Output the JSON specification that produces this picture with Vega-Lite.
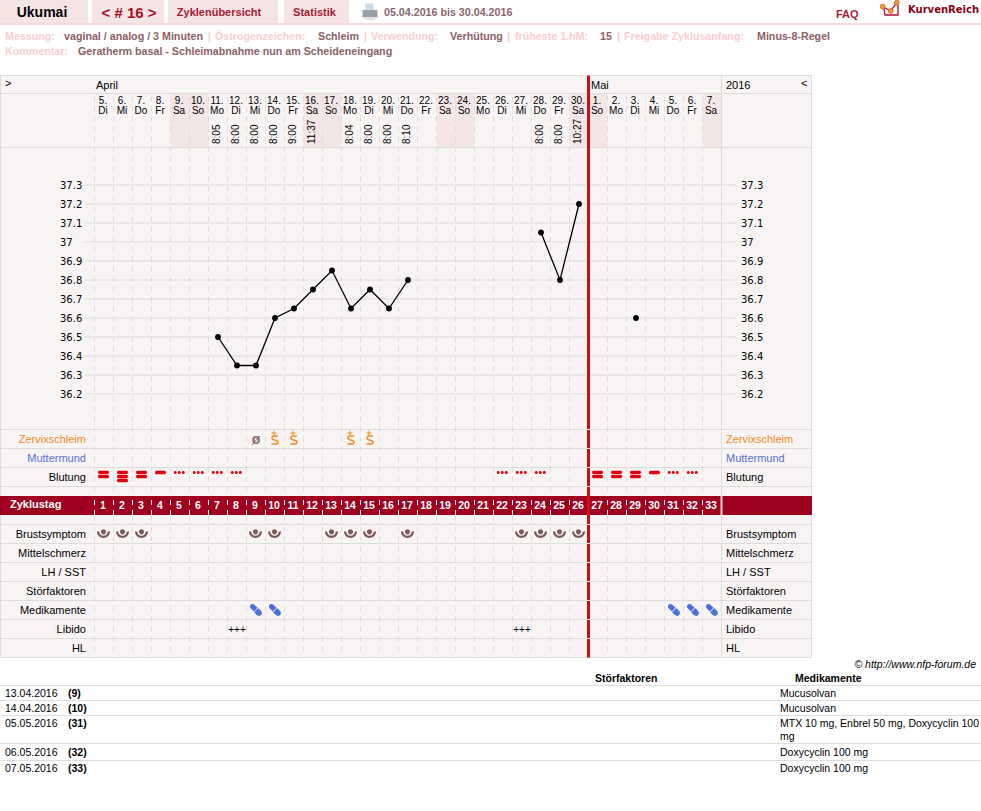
{
"$schema":"https://vega.github.io/schema/vega-lite/v6.json",
"width":981,"height":811,"padding":0,"autosize":{"type":"none"},"background":"#ffffff",
"config":{"view":{"stroke":null},"text":{"font":"Liberation Sans"},"axis":{"disable":true},"legend":{"disable":true}},
"datasets":{
"days":[
{"day":1,"lane":-17.5,"cycleLane":3.5,"date":"5.","wd":"Di","cycle":"1"},{"day":2,"lane":-17.5,"cycleLane":3.5,"date":"6.","wd":"Mi","cycle":"2"},{"day":3,"lane":-17.5,"cycleLane":3.5,"date":"7.","wd":"Do","cycle":"3"},{"day":4,"lane":-17.5,"cycleLane":3.5,"date":"8.","wd":"Fr","cycle":"4"},{"day":5,"lane":-17.5,"cycleLane":3.5,"date":"9.","wd":"Sa","cycle":"5"},{"day":6,"lane":-17.5,"cycleLane":3.5,"date":"10.","wd":"So","cycle":"6"},{"day":7,"lane":-17.5,"cycleLane":3.5,"date":"11.","wd":"Mo","cycle":"7","time":"8:05"},{"day":8,"lane":-17.5,"cycleLane":3.5,"date":"12.","wd":"Di","cycle":"8","time":"8:00"},{"day":9,"lane":-17.5,"cycleLane":3.5,"date":"13.","wd":"Mi","cycle":"9","time":"8:00"},{"day":10,"lane":-17.5,"cycleLane":3.5,"date":"14.","wd":"Do","cycle":"10","time":"8:00"},{"day":11,"lane":-17.5,"cycleLane":3.5,"date":"15.","wd":"Fr","cycle":"11","time":"9:00"},{"day":12,"lane":-17.5,"cycleLane":3.5,"date":"16.","wd":"Sa","cycle":"12","time":"11:37"},{"day":13,"lane":-17.5,"cycleLane":3.5,"date":"17.","wd":"So","cycle":"13"},{"day":14,"lane":-17.5,"cycleLane":3.5,"date":"18.","wd":"Mo","cycle":"14","time":"8:04"},{"day":15,"lane":-17.5,"cycleLane":3.5,"date":"19.","wd":"Di","cycle":"15","time":"8:00"},{"day":16,"lane":-17.5,"cycleLane":3.5,"date":"20.","wd":"Mi","cycle":"16","time":"8:00"},{"day":17,"lane":-17.5,"cycleLane":3.5,"date":"21.","wd":"Do","cycle":"17","time":"8:10"},{"day":18,"lane":-17.5,"cycleLane":3.5,"date":"22.","wd":"Fr","cycle":"18"},{"day":19,"lane":-17.5,"cycleLane":3.5,"date":"23.","wd":"Sa","cycle":"19"},{"day":20,"lane":-17.5,"cycleLane":3.5,"date":"24.","wd":"So","cycle":"20"},{"day":21,"lane":-17.5,"cycleLane":3.5,"date":"25.","wd":"Mo","cycle":"21"},{"day":22,"lane":-17.5,"cycleLane":3.5,"date":"26.","wd":"Di","cycle":"22"},{"day":23,"lane":-17.5,"cycleLane":3.5,"date":"27.","wd":"Mi","cycle":"23"},{"day":24,"lane":-17.5,"cycleLane":3.5,"date":"28.","wd":"Do","cycle":"24","time":"8:00"},{"day":25,"lane":-17.5,"cycleLane":3.5,"date":"29.","wd":"Fr","cycle":"25","time":"8:00"},{"day":26,"lane":-17.5,"cycleLane":3.5,"date":"30.","wd":"Sa","cycle":"26","time":"10:27"},{"day":27,"lane":-17.5,"cycleLane":3.5,"date":"1.","wd":"So","cycle":"27"},{"day":28,"lane":-17.5,"cycleLane":3.5,"date":"2.","wd":"Mo","cycle":"28"},{"day":29,"lane":-17.5,"cycleLane":3.5,"date":"3.","wd":"Di","cycle":"29"},{"day":30,"lane":-17.5,"cycleLane":3.5,"date":"4.","wd":"Mi","cycle":"30"},{"day":31,"lane":-17.5,"cycleLane":3.5,"date":"5.","wd":"Do","cycle":"31"},{"day":32,"lane":-17.5,"cycleLane":3.5,"date":"6.","wd":"Fr","cycle":"32"},{"day":33,"lane":-17.5,"cycleLane":3.5,"date":"7.","wd":"Sa","cycle":"33"}],
"bounds":[{"day":0.5,"a":-18.18421,"b":11.5,"c":3.21053,"d":4},{"day":1.5,"a":-18.18421,"b":11.5,"c":3.21053,"d":4},{"day":2.5,"a":-18.18421,"b":11.5,"c":3.21053,"d":4},{"day":3.5,"a":-18.18421,"b":11.5,"c":3.21053,"d":4},{"day":4.5,"a":-18.18421,"b":11.5,"c":3.21053,"d":4},{"day":5.5,"a":-18.18421,"b":11.5,"c":3.21053,"d":4},{"day":6.5,"a":-18.18421,"b":11.5,"c":3.21053,"d":4},{"day":7.5,"a":-18.18421,"b":11.5,"c":3.21053,"d":4},{"day":8.5,"a":-18.18421,"b":11.5,"c":3.21053,"d":4},{"day":9.5,"a":-18.18421,"b":11.5,"c":3.21053,"d":4},{"day":10.5,"a":-18.18421,"b":11.5,"c":3.21053,"d":4},{"day":11.5,"a":-18.18421,"b":11.5,"c":3.21053,"d":4},{"day":12.5,"a":-18.18421,"b":11.5,"c":3.21053,"d":4},{"day":13.5,"a":-18.18421,"b":11.5,"c":3.21053,"d":4},{"day":14.5,"a":-18.18421,"b":11.5,"c":3.21053,"d":4},{"day":15.5,"a":-18.18421,"b":11.5,"c":3.21053,"d":4},{"day":16.5,"a":-18.18421,"b":11.5,"c":3.21053,"d":4},{"day":17.5,"a":-18.18421,"b":11.5,"c":3.21053,"d":4},{"day":18.5,"a":-18.18421,"b":11.5,"c":3.21053,"d":4},{"day":19.5,"a":-18.18421,"b":11.5,"c":3.21053,"d":4},{"day":20.5,"a":-18.18421,"b":11.5,"c":3.21053,"d":4},{"day":21.5,"a":-18.18421,"b":11.5,"c":3.21053,"d":4},{"day":22.5,"a":-18.18421,"b":11.5,"c":3.21053,"d":4},{"day":23.5,"a":-18.18421,"b":11.5,"c":3.21053,"d":4},{"day":24.5,"a":-18.18421,"b":11.5,"c":3.21053,"d":4},{"day":25.5,"a":-18.18421,"b":11.5,"c":3.21053,"d":4},{"day":27.5,"a":-18.18421,"b":11.5,"c":3.21053,"d":4},{"day":28.5,"a":-18.18421,"b":11.5,"c":3.21053,"d":4},{"day":29.5,"a":-18.18421,"b":11.5,"c":3.21053,"d":4},{"day":30.5,"a":-18.18421,"b":11.5,"c":3.21053,"d":4},{"day":31.5,"a":-18.18421,"b":11.5,"c":3.21053,"d":4},{"day":32.5,"a":-18.18421,"b":11.5,"c":3.21053,"d":4}],
"temps":[{"day":7,"temp":36.5,"run":"a"},{"day":8,"temp":36.35,"run":"a"},{"day":9,"temp":36.35,"run":"a"},{"day":10,"temp":36.6,"run":"a"},{"day":11,"temp":36.65,"run":"a"},{"day":12,"temp":36.75,"run":"a"},{"day":13,"temp":36.85,"run":"a"},{"day":14,"temp":36.65,"run":"a"},{"day":15,"temp":36.75,"run":"a"},{"day":16,"temp":36.65,"run":"a"},{"day":17,"temp":36.8,"run":"a"},{"day":24,"temp":37.05,"run":"b"},{"day":25,"temp":36.8,"run":"b"},{"day":26,"temp":37.2,"run":"b"},{"day":29,"temp":36.6,"run":"c"}],
"ticks":[{"temp":37.3,"label":"37.3","day":0,"day2":34.3,"left":-1.31579,"right":34.52632},{"temp":37.2,"label":"37.2","day":0,"day2":34.3,"left":-1.31579,"right":34.52632},{"temp":37.1,"label":"37.1","day":0,"day2":34.3,"left":-1.31579,"right":34.52632},{"temp":37.0,"label":"37","day":0,"day2":34.3,"left":-1.31579,"right":34.52632},{"temp":36.9,"label":"36.9","day":0,"day2":34.3,"left":-1.31579,"right":34.52632},{"temp":36.8,"label":"36.8","day":0,"day2":34.3,"left":-1.31579,"right":34.52632},{"temp":36.7,"label":"36.7","day":0,"day2":34.3,"left":-1.31579,"right":34.52632},{"temp":36.6,"label":"36.6","day":0,"day2":34.3,"left":-1.31579,"right":34.52632},{"temp":36.5,"label":"36.5","day":0,"day2":34.3,"left":-1.31579,"right":34.52632},{"temp":36.4,"label":"36.4","day":0,"day2":34.3,"left":-1.31579,"right":34.52632},{"temp":36.3,"label":"36.3","day":0,"day2":34.3,"left":-1.31579,"right":34.52632},{"temp":36.2,"label":"36.2","day":0,"day2":34.3,"left":-1.31579,"right":34.52632}]
},
"encoding":{
"x":{"field":"day","type":"quantitative","scale":{"domain":[-4.47368,47.15789],"nice":false,"zero":false}},
"y":{"field":"lane","type":"quantitative","scale":{"domain":[-23.10526,19.57895],"reverse":true,"nice":false,"zero":false}}
},
"resolve":{"scale":{"y":"independent","color":"independent","shape":"independent"}},
"layer":[
{"data":{"values":[{"day":-4.47368,"day2":38.23684,"lane":-19.13158,"lane2":11.5,"k":"panel"},
{"day":-4.47368,"day2":0.15789,"lane":-23.10526,"lane2":-21.89474,"k":"tab"},{"day":0.36842,"day2":4.15789,"lane":-23.10526,"lane2":-21.89474,"k":"tab"},{"day":4.36842,"day2":10.15789,"lane":-23.10526,"lane2":-21.89474,"k":"tab"},{"day":10.47368,"day2":13.89474,"lane":-23.10526,"lane2":-21.89474,"k":"tab"},
{"day":-4.47368,"day2":47.15789,"lane":-21.89474,"lane2":-21.78947,"k":"tabline"},
{"day":4.5,"day2":6.5,"lane":-18.18421,"lane2":-15.34211,"k":"weekend"},{"day":11.5,"day2":13.5,"lane":-18.18421,"lane2":-15.34211,"k":"weekend"},{"day":18.5,"day2":20.5,"lane":-18.18421,"lane2":-15.34211,"k":"weekend"},{"day":25.5,"day2":27.5,"lane":-18.18421,"lane2":-15.34211,"k":"weekend"},{"day":32.5,"day2":33.5,"lane":-18.18421,"lane2":-15.34211,"k":"weekend"}]},
"mark":{"type":"rect"},
"encoding":{"x2":{"field":"day2"},"y2":{"field":"lane2"},"color":{"field":"k","type":"nominal","scale":{"domain":["panel","tab","tabline","weekend"],"range":["#f9f4f4","#f4e4e6","#f5d9dc","#f4e5e6"]}}}},
{"data":{"name":"bounds"},
"mark":{"type":"rule","stroke":"#e0dcdc","strokeWidth":1,"strokeDash":[5,5],"strokeDashOffset":7},
"encoding":{"y":{"field":"a","type":"quantitative","scale":{"domain":[-23.10526,19.57895],"reverse":true,"nice":false,"zero":false}},"y2":{"field":"b"}}},
{"data":{"values":[{"lane":-19.13158,"day":-4.47368,"day2":38.23684},{"lane":-18.18421,"day":-4.47368,"day2":38.23684},{"lane":-15.34211,"day":-4.47368,"day2":38.23684},{"lane":-0.5,"day":-4.47368,"day2":38.23684},{"lane":0.5,"day":-4.47368,"day2":38.23684},{"lane":1.5,"day":-4.47368,"day2":38.23684},{"lane":2.5,"day":-4.47368,"day2":38.23684},{"lane":4.5,"day":-4.47368,"day2":38.23684},{"lane":5.5,"day":-4.47368,"day2":38.23684},{"lane":6.5,"day":-4.47368,"day2":38.23684},{"lane":7.5,"day":-4.47368,"day2":38.23684},{"lane":8.5,"day":-4.47368,"day2":38.23684},{"lane":9.5,"day":-4.47368,"day2":38.23684},{"lane":10.5,"day":-4.47368,"day2":38.23684},{"lane":11.5,"day":-4.47368,"day2":38.23684}]},
"mark":{"type":"rule","stroke":"#dddddd","strokeWidth":1},
"encoding":{"x2":{"field":"day2"}}},
{"data":{"values":[{"day":-4.44737,"lane":-19.13158,"lane2":11.5},{"day":33.5,"lane":-19.13158,"lane2":11.5},{"day":38.23684,"lane":-19.13158,"lane2":11.5}]},
"mark":{"type":"rule","stroke":"#dddddd","strokeWidth":1},
"encoding":{"y2":{"field":"lane2"}}},
{"data":{"name":"ticks"},"mark":{"type":"rule","stroke":"#dddddd","strokeWidth":1},
"encoding":{"x2":{"field":"day2"},"y":{"field":"temp","type":"quantitative","scale":{"domain":[34.00526,38.27368],"nice":false,"zero":false}}}},
{"data":{"values":[{"day":-4.47368,"day2":33.45,"lane":3,"lane2":4},{"day":33.55,"day2":38.26,"lane":3,"lane2":4}]},
"mark":{"type":"rect","color":"#a00020"},"encoding":{"x2":{"field":"day2"},"y2":{"field":"lane2"}}},
{"data":{"name":"bounds"},"mark":{"type":"rule","stroke":"#ffffff","strokeWidth":1,"strokeDash":[5,5]},
"encoding":{"y":{"field":"c","type":"quantitative","scale":{"domain":[-23.10526,19.57895],"reverse":true,"nice":false,"zero":false}},"y2":{"field":"d"}}},
{"data":{"values":[{"day":26.5,"lane":-19.13158,"lane2":11.5}]},"mark":{"type":"rule","stroke":"#d20a12","strokeWidth":3},
"encoding":{"y2":{"field":"lane2"}}},
{"data":{"values":[{"day":26.42,"day2":26.58,"lane":-0.5},{"day":26.42,"day2":26.58,"lane":0.5},{"day":26.42,"day2":26.58,"lane":1.5},{"day":26.42,"day2":26.58,"lane":2.5},{"day":26.42,"day2":26.58,"lane":4.5},{"day":26.42,"day2":26.58,"lane":5.5},{"day":26.42,"day2":26.58,"lane":6.5},{"day":26.42,"day2":26.58,"lane":7.5},{"day":26.42,"day2":26.58,"lane":8.5},{"day":26.42,"day2":26.58,"lane":9.5},{"day":26.42,"day2":26.58,"lane":10.5}]},
"mark":{"type":"rule","stroke":"#eeeaea","strokeWidth":1},
"encoding":{"x2":{"field":"day2"}}},
{"data":{"values":[{"day":-4.47368,"day2":47.15789,"lane":12.97368},{"day":-4.47368,"day2":47.15789,"lane":13.76316},{"day":-4.47368,"day2":47.15789,"lane":14.55263},{"day":-4.47368,"day2":47.15789,"lane":16.02632},{"day":-4.47368,"day2":47.15789,"lane":16.92105}]},
"mark":{"type":"rule","stroke":"#dddddd","strokeWidth":1},
"encoding":{"x2":{"field":"day2"}}},
{"data":{"name":"temps"},"mark":{"type":"line","color":"#000000","strokeWidth":1.3},
"encoding":{"detail":{"field":"run"},"y":{"field":"temp","type":"quantitative","scale":{"domain":[34.00526,38.27368],"nice":false,"zero":false}}}},
{"data":{"name":"temps"},"mark":{"type":"point","filled":true,"color":"#000000","size":34,"opacity":1},
"encoding":{"y":{"field":"temp","type":"quantitative","scale":{"domain":[34.00526,38.27368],"nice":false,"zero":false}}}},
{"data":{"name":"ticks"},"mark":{"type":"text","font":"DejaVu Sans","fontSize":10,"align":"left","baseline":"middle","dy":1,"color":"#000000"},
"encoding":{"x":{"field":"left","type":"quantitative","scale":{"domain":[-4.47368,47.15789],"nice":false,"zero":false}},"y":{"field":"temp","type":"quantitative","scale":{"domain":[34.00526,38.27368],"nice":false,"zero":false}},"text":{"field":"label"}}},
{"data":{"name":"ticks"},"mark":{"type":"text","font":"DejaVu Sans","fontSize":10,"align":"left","baseline":"middle","dy":1,"color":"#000000"},
"encoding":{"x":{"field":"right","type":"quantitative","scale":{"domain":[-4.47368,47.15789],"nice":false,"zero":false}},"y":{"field":"temp","type":"quantitative","scale":{"domain":[34.00526,38.27368],"nice":false,"zero":false}},"text":{"field":"label"}}},
{"data":{"name":"days"},"mark":{"type":"text","fontSize":10,"align":"center","baseline":"middle","dx":-1,"dy":-5,"color":"#000000"},
"encoding":{"text":{"field":"date"}}},
{"data":{"name":"days"},"mark":{"type":"text","fontSize":10,"align":"center","baseline":"middle","dx":-1,"dy":4.5,"color":"#000000"},
"encoding":{"text":{"field":"wd"}}},
{"data":{"name":"days"},"transform":[{"filter":"datum.time"}],"mark":{"type":"text","fontSize":10,"align":"left","baseline":"middle","angle":270,"dx":-37.5,"dy":-1,"color":"#000000"},
"encoding":{"text":{"field":"time"}}},
{"data":{"name":"days"},"mark":{"type":"text","fontWeight":"bold","fontSize":10.5,"align":"center","baseline":"middle","dx":-1,"dy":0.5,"color":"#ffffff"},
"encoding":{"y":{"field":"cycleLane","type":"quantitative","scale":{"domain":[-23.10526,19.57895],"reverse":true,"nice":false,"zero":false}},"text":{"field":"cycle"}}},
{"data":{"values":[{"day":0.05,"lane":0,"t":"Zervixschleim","k":"z"},{"day":0.05,"lane":1,"t":"Muttermund","k":"m"},{"day":0.05,"lane":2,"t":"Blutung","k":"n"},{"day":0.05,"lane":5,"t":"Brustsymptom","k":"n"},{"day":0.05,"lane":6,"t":"Mittelschmerz","k":"n"},{"day":0.05,"lane":7,"t":"LH / SST","k":"n"},{"day":0.05,"lane":8,"t":"Störfaktoren","k":"n"},{"day":0.05,"lane":9,"t":"Medikamente","k":"n"},{"day":0.05,"lane":10,"t":"Libido","k":"n"},{"day":0.05,"lane":11,"t":"HL","k":"n"}]},
"mark":{"type":"text","fontSize":11,"align":"right","baseline":"middle","dy":1},
"encoding":{"text":{"field":"t"},"color":{"field":"k","type":"nominal","scale":{"domain":["z","m","n"],"range":["#f58a1f","#5570d8","#000000"]}}}},
{"data":{"values":[{"day":33.73684,"lane":0,"t":"Zervixschleim","k":"z"},{"day":33.73684,"lane":1,"t":"Muttermund","k":"m"},{"day":33.73684,"lane":2,"t":"Blutung","k":"n"},{"day":33.73684,"lane":5,"t":"Brustsymptom","k":"n"},{"day":33.73684,"lane":6,"t":"Mittelschmerz","k":"n"},{"day":33.73684,"lane":7,"t":"LH / SST","k":"n"},{"day":33.73684,"lane":8,"t":"Störfaktoren","k":"n"},{"day":33.73684,"lane":9,"t":"Medikamente","k":"n"},{"day":33.73684,"lane":10,"t":"Libido","k":"n"},{"day":33.73684,"lane":11,"t":"HL","k":"n"}]},
"mark":{"type":"text","fontSize":11,"align":"left","baseline":"middle","dy":1},
"encoding":{"text":{"field":"t"},"color":{"field":"k","type":"nominal","scale":{"domain":["z","m","n"],"range":["#f58a1f","#5570d8","#000000"]}}}},
{"data":{"values":[{"day":-3.94737,"lane":3.5,"t":"Zyklustag"}]},"mark":{"type":"text","fontSize":11,"fontWeight":"bold","align":"left","baseline":"middle","color":"#ffffff"},"encoding":{"text":{"field":"t"}}},
{"data":{"values":[{"day":0.57895,"lane":-18.63158,"t":"April"},{"day":26.63158,"lane":-18.63158,"t":"Mai"},{"day":33.73684,"lane":-18.63158,"t":"2016"},{"day":-4.21053,"lane":-18.73684,"t":">"},{"day":37.68421,"lane":-18.73684,"t":"<"}]},
"mark":{"type":"text","fontSize":11,"align":"left","baseline":"middle","dy":1,"color":"#000000"},"encoding":{"text":{"field":"t"}}},
{"data":{"values":[{"day":1,"lane":2,"flow":"two"},{"day":2,"lane":2,"flow":"three"},{"day":3,"lane":2,"flow":"two"},{"day":4,"lane":2,"flow":"one"},{"day":5,"lane":2,"flow":"dots"},{"day":6,"lane":2,"flow":"dots"},{"day":7,"lane":2,"flow":"dots"},{"day":8,"lane":2,"flow":"dots"},{"day":22,"lane":2,"flow":"dots"},{"day":23,"lane":2,"flow":"dots"},{"day":24,"lane":2,"flow":"dots"},{"day":27,"lane":2,"flow":"two"},{"day":28,"lane":2,"flow":"two"},{"day":29,"lane":2,"flow":"two"},{"day":30,"lane":2,"flow":"one"},{"day":31,"lane":2,"flow":"dots"},{"day":32,"lane":2,"flow":"dots"}]},
"mark":{"type":"point","filled":true,"color":"#e2000f","size":400,"opacity":1,"strokeWidth":0},
"encoding":{
"shape":{"field":"flow","type":"nominal","scale":{"domain":["one","two","three","dots"],"range":[
"M-.52,-.62H.42L.52,-.46L.42,-.28H-.52L-.62,-.46Z",
"M-.52,-.63H.42L.52,-.47L.42,-.31H-.52L-.62,-.47ZM-.52,-.22H.42L.52,-.05L.42,.12H-.52L-.62,-.05Z",
"M-.52,-.63H.42L.52,-.47L.42,-.31H-.52L-.62,-.47ZM-.52,-.22H.42L.52,-.05L.42,.12H-.52L-.62,-.05ZM-.52,.18H.42L.52,.35L.42,.52H-.52L-.62,.35Z",
"M-.62,-.45a.15,.15 0 1 0 .3,0a.15,.15 0 1 0 -.3,0ZM-.22,-.45a.15,.15 0 1 0 .3,0a.15,.15 0 1 0 -.3,0ZM.18,-.45a.15,.15 0 1 0 .3,0a.15,.15 0 1 0 -.3,0Z"]}}}},
{"data":{"values":[{"day":1,"lane":5},{"day":2,"lane":5},{"day":3,"lane":5},{"day":9,"lane":5},{"day":10,"lane":5},{"day":13,"lane":5},{"day":14,"lane":5},{"day":15,"lane":5},{"day":17,"lane":5},{"day":23,"lane":5},{"day":24,"lane":5},{"day":25,"lane":5},{"day":26,"lane":5}]},
"mark":{"type":"point","filled":true,"color":"#7d5a5a","size":400,"opacity":1,"strokeWidth":0,"shape":"M-.7,-.25A.65,.65 0 0 0 .6,-.25L.38,-.25A.43,.43 0 0 1 -.48,-.25ZM-.31,-.22a.26,.26 0 1 0 .52,0a.26,.26 0 1 0 -.52,0Z"}},
{"data":{"values":[{"day":9,"lane":9},{"day":10,"lane":9},{"day":31,"lane":9},{"day":32,"lane":9},{"day":33,"lane":9}]},
"mark":{"type":"point","filled":true,"color":"#4f6fd8","size":400,"opacity":1,"strokeWidth":0,"shape":"M-.166,-.534L.154,-.214L-.214,.154L-.534,-.166A.26,.26 0 0 1 -.166,-.534ZM.232,-.192L.512,.088A.3,.3 0 0 1 .088,.512L-.192,.232Z"}},
{"data":{"values":[{"day":8,"lane":10},{"day":23,"lane":10}]},"mark":{"type":"text","fontSize":10,"align":"center","baseline":"middle","dy":1.5,"color":"#000000","text":"+++"}},
{"data":{"values":[{"day":9,"lane":0,"t":"ø"}]},"mark":{"type":"text","fontSize":14,"fontWeight":"bold","align":"center","baseline":"middle","dy":1,"color":"#8c6a6a"},"encoding":{"text":{"field":"t"}}},
{"data":{"values":[{"day":10,"lane":0},{"day":11,"lane":0},{"day":14,"lane":0},{"day":15,"lane":0}]},"mark":{"type":"point","filled":false,"color":"#f58a1f","size":400,"opacity":1,"strokeWidth":1.5,"shape":"M.3,-.3H-.12Q-.3,-.3 -.3,-.1Q-.3,.05 -.05,.1Q.3,.15 .3,.32Q.3,.5 .05,.5H-.35"}},
{"data":{"values":[{"day":10,"lane":0},{"day":11,"lane":0},{"day":14,"lane":0},{"day":15,"lane":0}]},"mark":{"type":"point","filled":false,"color":"#f58a1f","size":400,"opacity":1,"strokeWidth":1,"shape":"M-.35,-.6H.15M-.1,-.85V-.35"}},
{"data":{"values":[{"day":15,"lane":-22.47368,"part":"paper"},{"day":15,"lane":-22.47368,"part":"body"},{"day":15,"lane":-22.47368,"part":"tray"}]},
"mark":{"type":"point","filled":true,"size":400,"opacity":1,"strokeWidth":0},
"encoding":{"shape":{"field":"part","type":"nominal","scale":{"domain":["paper","body","tray"],"range":["M-.5,-.85L.3,-.85L.4,-.1L-.4,-.1Z","M-.75,-.2H.75V.55H-.75Z","M-.5,.5H.5V.8H-.5Z"]}},"color":{"field":"part","type":"nominal","scale":{"domain":["paper","body","tray"],"range":["#c9dce8","#9aa0a5","#dfe2e4"]}}}},
{"data":{"values":[{"day":42.36842,"lane":-22.63158}]},"mark":{"type":"point","filled":false,"color":"#a01030","size":400,"opacity":1,"strokeWidth":1.3,"shape":"M-.73,-.23L.07,.2L.67,-.63M-.6,0L-.5,.6L.8,.6L.8,-.4"}},
{"data":{"values":[{"day":41.984,"lane":-22.753},{"day":42.405,"lane":-22.526},{"day":42.721,"lane":-22.963}]},"mark":{"type":"point","filled":true,"color":"#f59a23","size":24,"opacity":1,"stroke":"#c04020","strokeWidth":0.6}},
{"data":{"values":[{"day":-2.26316,"lane":-22.47368,"t":"Ukumai"}]},"mark":{"type":"text","fontSize":14,"fontWeight":"bold","align":"center","baseline":"middle","dy":1,"color":"#000000"},"encoding":{"text":{"field":"t"}}},
{"data":{"values":[{"day":2.31579,"lane":-22.42,"t":"< # 16 >"}]},"mark":{"type":"text","fontSize":15,"fontWeight":"bold","align":"center","baseline":"middle","color":"#a80f24"},"encoding":{"text":{"field":"t"}}},
{"data":{"values":[{"day":7.05263,"lane":-22.47368,"t":"Zyklenübersicht"},{"day":12.07895,"lane":-22.47368,"t":"Statistik"}]},"mark":{"type":"text","fontSize":11,"fontWeight":"bold","align":"center","baseline":"middle","dy":1,"color":"#a51c30"},"encoding":{"text":{"field":"t"}}},
{"data":{"values":[{"day":15.73684,"lane":-22.47368,"t":"05.04.2016 bis 30.04.2016"}]},"mark":{"type":"text","fontSize":10.7,"fontWeight":"bold","align":"left","baseline":"middle","dy":1,"color":"#8a666b"},"encoding":{"text":{"field":"t"}}},
{"data":{"values":[{"day":39.52632,"lane":-22.36842,"t":"FAQ"}]},"mark":{"type":"text","fontSize":11,"fontWeight":"bold","align":"left","baseline":"middle","dy":1,"color":"#a51c30"},"encoding":{"text":{"field":"t"}}},
{"data":{"values":[{"day":43.31579,"lane":-22.57895,"t":"KurvenReich"}]},"mark":{"type":"text","font":"DejaVu Sans","fontSize":10,"fontWeight":"bold","align":"left","baseline":"middle","color":"#8b0014"},"encoding":{"text":{"field":"t"}}},
{"data":{"values":[{"day":-4.21053,"lane":-21.21053,"t":"Messung:"},{"day":6.47368,"lane":-21.21053,"t":"|"},{"day":6.84211,"lane":-21.21053,"t":"Östrogenzeichen:"},{"day":14.68421,"lane":-21.21053,"t":"|"},{"day":15.05263,"lane":-21.21053,"t":"Verwendung:"},{"day":22.21053,"lane":-21.21053,"t":"|"},{"day":22.63158,"lane":-21.21053,"t":"früheste 1.hM:"},{"day":28,"lane":-21.21053,"t":"|"},{"day":28.36842,"lane":-21.21053,"t":"Freigabe Zyklusanfang:"},{"day":-4.21053,"lane":-20.42105,"t":"Kommentar:"}]},
"mark":{"type":"text","fontSize":10.7,"fontWeight":"bold","align":"left","baseline":"middle","dy":1,"color":"#f9cdd0"},"encoding":{"text":{"field":"t"}}},
{"data":{"values":[{"day":-1.10526,"lane":-21.21053,"t":"vaginal / analog / 3 Minuten"},{"day":12.26316,"lane":-21.21053,"t":"Schleim"},{"day":19.21053,"lane":-21.21053,"t":"Verhütung"},{"day":27.10526,"lane":-21.21053,"t":"15"},{"day":35.36842,"lane":-21.21053,"t":"Minus-8-Regel"},{"day":-0.36842,"lane":-20.42105,"t":"Geratherm basal - Schleimabnahme nun am Scheideneingang"}]},
"mark":{"type":"text","fontSize":10.7,"fontWeight":"bold","align":"left","baseline":"middle","dy":1,"color":"#8c5f65"},"encoding":{"text":{"field":"t"}}},
{"data":{"values":[{"day":46.89474,"lane":11.89474,"t":"© http://www.nfp-forum.de"}]},"mark":{"type":"text","fontSize":10.5,"fontStyle":"italic","align":"right","baseline":"middle","color":"#000000"},"encoding":{"text":{"field":"t"}}},
{"data":{"values":[{"day":26.84211,"lane":12.57895,"t":"Störfaktoren"},{"day":37.36842,"lane":12.57895,"t":"Medikamente"},{"day":-0.89474,"lane":13.36842,"t":"(9)"},{"day":-0.89474,"lane":14.15789,"t":"(10)"},{"day":-0.89474,"lane":14.94737,"t":"(31)"},{"day":-0.89474,"lane":16.47368,"t":"(32)"},{"day":-0.89474,"lane":17.31579,"t":"(33)"}]},
"mark":{"type":"text","fontSize":10.5,"fontWeight":"bold","align":"left","baseline":"middle","dy":1,"color":"#000000"},"encoding":{"text":{"field":"t"}}},
{"data":{"values":[{"day":-4.21053,"lane":13.36842,"t":"13.04.2016"},{"day":-4.21053,"lane":14.15789,"t":"14.04.2016"},{"day":-4.21053,"lane":14.94737,"t":"05.05.2016"},{"day":-4.21053,"lane":16.47368,"t":"06.05.2016"},{"day":-4.21053,"lane":17.31579,"t":"07.05.2016"},{"day":36.57895,"lane":13.36842,"t":"Mucusolvan"},{"day":36.57895,"lane":14.15789,"t":"Mucusolvan"},{"day":36.57895,"lane":14.94737,"t":"MTX 10 mg, Enbrel 50 mg, Doxycyclin 100"},{"day":36.57895,"lane":15.63158,"t":"mg"},{"day":36.57895,"lane":16.47368,"t":"Doxycyclin 100 mg"},{"day":36.57895,"lane":17.31579,"t":"Doxycyclin 100 mg"}]},
"mark":{"type":"text","fontSize":10.5,"align":"left","baseline":"middle","dy":1,"color":"#000000"},"encoding":{"text":{"field":"t"}}}
]
}
